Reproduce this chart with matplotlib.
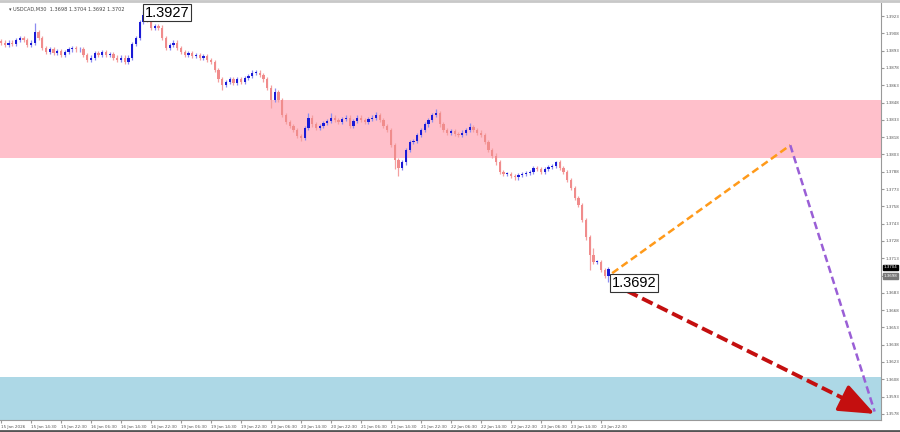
import numpy as np
import matplotlib
matplotlib.use("Agg")
import matplotlib.pyplot as plt

# hourly closes (15 Jan 2026 -> 23 Jan 2026)
closes = [
    1.3900, 1.3898, 1.3900, 1.3899, 1.3902, 1.3904, 1.3902, 1.3898, 1.3900, 1.3909,
    1.3904, 1.3895, 1.3892, 1.3894, 1.3891, 1.3893, 1.3889, 1.3892, 1.3894, 1.3895,
    1.3894, 1.3894, 1.3889, 1.3885, 1.3887, 1.3891, 1.3889, 1.3892, 1.3889, 1.3890,
    1.3887, 1.3885, 1.3887, 1.3883, 1.3887, 1.3899, 1.3904, 1.3918, 1.3924, 1.3920,
    1.3913, 1.3914, 1.3913, 1.3904, 1.3895, 1.3898, 1.3900, 1.3895, 1.3892, 1.3889,
    1.3891, 1.3888, 1.3889, 1.3887, 1.3888, 1.3885, 1.3883, 1.3876, 1.3868, 1.3863,
    1.3866, 1.3868, 1.3865, 1.3868, 1.3866, 1.3869, 1.3871, 1.3874, 1.3874, 1.3872,
    1.3868, 1.3861, 1.3850, 1.3857, 1.3850, 1.3837, 1.3831, 1.3828, 1.3824, 1.3819,
    1.3817, 1.3826, 1.3835, 1.3829, 1.3826, 1.3828, 1.3830, 1.3832, 1.3835, 1.3833,
    1.3831, 1.3834, 1.3835, 1.3828, 1.3832, 1.3835, 1.3833, 1.3831, 1.3834, 1.3835,
    1.3837, 1.3833, 1.3828, 1.3824, 1.3811, 1.3798, 1.3791, 1.3796, 1.3807, 1.3814,
    1.3815, 1.3820, 1.3824, 1.3829, 1.3833, 1.3837, 1.3839, 1.3829, 1.3824, 1.3822,
    1.3823, 1.3821, 1.3820, 1.3822, 1.3824, 1.3827, 1.3824, 1.3822, 1.3820, 1.3814,
    1.3807, 1.3802, 1.3796, 1.3788, 1.3786, 1.3786, 1.3784, 1.3783, 1.3785, 1.3786,
    1.3787, 1.3788, 1.3791, 1.3790, 1.3788, 1.3790, 1.3792, 1.3793, 1.3796, 1.3791,
    1.3788, 1.3781, 1.3774, 1.3765, 1.3759, 1.3746, 1.3731, 1.3716, 1.3710, 1.3710,
    1.3703, 1.3698, 1.3704,
]
first_open = 1.3901
# notable wick extremes (bar index -> price)
spike_highs = {9: 1.3917, 38: 1.3927, 73: 1.3861, 82: 1.3839, 88: 1.3839, 100: 1.3840,
               116: 1.3842, 125: 1.3830, 148: 1.3797, 158: 1.3722}
spike_lows = {59: 1.3859, 72: 1.3843, 80: 1.3815, 105: 1.3790, 106: 1.3784,
              157: 1.3703, 162: 1.3692}

time_labels = ["15 Jan 2026", "15 Jan 14:30", "15 Jan 22:30", "16 Jan 06:30", "16 Jan 14:30",
               "16 Jan 22:30", "19 Jan 06:30", "19 Jan 14:30", "19 Jan 22:30", "20 Jan 06:30",
               "20 Jan 14:30", "20 Jan 22:30", "21 Jan 06:30", "21 Jan 14:30", "21 Jan 22:30",
               "22 Jan 06:30", "22 Jan 14:30", "22 Jan 22:30", "23 Jan 06:30", "23 Jan 14:30",
               "23 Jan 22:30"]
bars_per_label = 8

resist_zone = (1.3800, 1.3850)
support_zone = (1.3572, 1.3610)

# forecast wave: bar index / price
wave_x = [163, 210.5, 233]
wave_y = [1.3700, 1.3811, 1.3580]
arrow_x = [163, 233]
arrow_y = [1.3691, 1.3578]

high_label, high_bar = "1.3927", 38
low_label, low_bar = "1.3692", 162
price_ticks = [round(1.3578 + 0.0015 * k, 4) for k in range(24)]
ask_price = 1.3698  # grey marker on the scale, sits on top of that tick

opens = [first_open] + closes[:-1]
n = len(closes)
x = np.arange(n)
wick_pad = 0.00018
highs, lows = [], []
for i in range(n):
    hi = max(opens[i], closes[i]) + wick_pad
    lo = min(opens[i], closes[i]) - wick_pad
    highs.append(spike_highs.get(i, hi))
    lows.append(spike_lows.get(i, lo))

fig = plt.figure(figsize=(9, 4.32), dpi=100)
ax = fig.add_axes([0, 1 - 420 / 432, 881 / 900, 417 / 432])
ax.set_xlim(-0.27, 234.7)
ax.set_ylim(1.35727, 1.39343)

ax.axhspan(*resist_zone, color="#ffc0cb", zorder=0, lw=0)
ax.axhspan(*support_zone, color="#add8e6", zorder=0, lw=0)

bull = np.array(closes) >= np.array(opens)
for i in range(n):
    col = "#1a1ad6" if bull[i] else "#f08c8c"
    wick = "#8c8cf0" if bull[i] else "#f4a0a0"
    ax.vlines(x[i], lows[i], highs[i], color=wick, lw=0.9, zorder=2)
    lo, hi = min(opens[i], closes[i]), max(opens[i], closes[i])
    ax.bar(x[i], max(hi - lo, 0.00005), bottom=lo, width=0.62, color=col, zorder=3, lw=0)

# forecast lines
ax.plot(wave_x[:2], wave_y[:2], color="#ff9a1a", lw=1.8, ls=(0, (3, 1.6)), zorder=4)
ax.plot(wave_x[1:], wave_y[1:], color="#9a5fd6", lw=1.8, ls=(0, (3, 1.6)), zorder=4)
ax.plot([arrow_x[0], arrow_x[1] - 6], [arrow_y[0], arrow_y[1] + 0.00097], color="#c40f0f",
        lw=2.8, ls=(0, (3, 1.3)), zorder=4)
dx = arrow_x[1] - arrow_x[0]
dy = arrow_y[1] - arrow_y[0]
ax.annotate("", xy=(arrow_x[1], arrow_y[1]),
            xytext=(arrow_x[1] - 0.11 * dx, arrow_y[1] - 0.11 * dy),
            arrowprops=dict(arrowstyle="-|>,head_length=1.0,head_width=0.4", color="#c40f0f",
                            lw=2.5, mutation_scale=22, shrinkA=0, shrinkB=0), zorder=5)

box = dict(boxstyle="square,pad=0.12", fc="white", ec="#333333", lw=0.8)
ax.text(high_bar + 0.4, highs[high_bar] - 0.0001, high_label, family="Liberation Sans",
        fontsize=10.5, ha="left", va="center", bbox=box, zorder=6)
ax.text(low_bar + 0.8, lows[low_bar] - 0.00005, low_label, family="Liberation Sans",
        fontsize=10.5, ha="left", va="center", bbox=box, zorder=6)

ax.text(2, 1.3929, "\u25be USDCAD,M30  1.3698 1.3704 1.3692 1.3702", fontsize=3.6,
        color="#444444", va="center", ha="left")

# axes styling, MT4 like
for s in ["top", "left"]:
    ax.spines[s].set_visible(False)
ax.spines["right"].set_color("#999999")
ax.spines["bottom"].set_color("#999999")
ax.spines["right"].set_linewidth(0.8)
ax.spines["bottom"].set_linewidth(0.8)
ax.yaxis.tick_right()
ax.set_yticks(price_ticks)
ax.set_yticklabels(["" if abs(p - ask_price) < 1e-6 else f"{p:.4f}" for p in price_ticks])
ax.tick_params(axis="y", labelsize=2.9, labelcolor="#555555", color="#999999", length=2, pad=1.5)
ax.set_xticks(np.arange(len(time_labels)) * bars_per_label)
ax.set_xticklabels(time_labels, ha="left")
ax.tick_params(axis="x", labelsize=3.0, labelcolor="#555555", color="#999999", length=2, pad=1.5)

# current price markers on the price scale
ax.text(1.0025, closes[-1] + 0.00012, f"{closes[-1]:.4f}", transform=ax.get_yaxis_transform(),
        fontsize=2.9, color="white", va="center", ha="left",
        bbox=dict(boxstyle="square,pad=0.15", fc="black", ec="black"), zorder=7)
ax.text(1.0025, ask_price - 0.00004, f"{ask_price:.4f}", transform=ax.get_yaxis_transform(),
        fontsize=2.9, color="white", va="center", ha="left",
        bbox=dict(boxstyle="square,pad=0.15", fc="#777777", ec="#777777"), zorder=7)

# screenshot frame
fig.add_artist(plt.Line2D([0, 1], [1 - 1 / 432, 1 - 1 / 432], color="#c8c8c8", lw=2))
fig.add_artist(plt.Line2D([0, 1], [1.5 / 432, 1.5 / 432], color="#555555", lw=2))

fig.savefig("out.png", dpi=100)
